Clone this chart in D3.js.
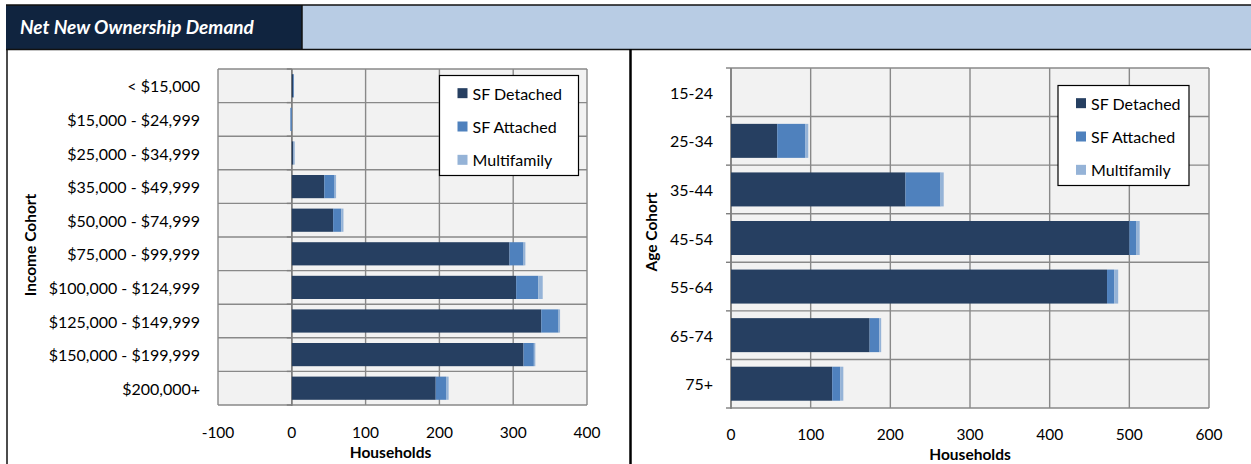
<!DOCTYPE html>
<html>
<head>
<meta charset="utf-8">
<script src="https://cdn.jsdelivr.net/npm/d3@7"></script>
<style>
  body { margin: 0; background: #fff; }
  svg { display: block; }
  text { font-family: Lato, "Open Sans", sans-serif; fill: #000; }
</style>
</head>
<body>
<svg id="chart" width="1251" height="464"></svg>
<script>
// Housing types stacked in each bar
const series = ["SF Detached", "SF Attached", "Multifamily"];
const seriesColors = ["#263f61", "#4f81bd", "#95b3d7"];

// Net new ownership demand by household income
const incomeCohorts = ["< $15,000", "$15,000 - $24,999", "$25,000 - $34,999", "$35,000 - $49,999",
  "$50,000 - $74,999", "$75,000 - $99,999", "$100,000 - $124,999", "$125,000 - $149,999",
  "$150,000 - $199,999", "$200,000+"];
const incomeDetached = [2, 0, 2, 44, 56, 295, 304, 338, 314, 195];
const incomeAttached = [1, -2, 0.5, 14, 11, 19, 30, 23.5, 14, 14];
const incomeMultifamily = [0, 0, 1.5, 2, 3, 2.5, 6, 2, 2, 3.5];
const incomeTicks = [-100, 0, 100, 200, 300, 400];

// Net new ownership demand by age of householder
const ageCohorts = ["15-24", "25-34", "35-44", "45-54", "55-64", "65-74", "75+"];
const ageDetached = [0, 58, 219, 500, 472, 174, 127];
const ageAttached = [0, 35, 44, 9, 9, 12, 10];
const ageMultifamily = [0, 4, 4, 4, 5, 2.5, 4];
const ageTicks = [0, 100, 200, 300, 400, 500, 600];

const svg = d3.select("#chart");
const gridColor = "#898989";

// ---- header band ----
svg.append("rect").attr("x", 302).attr("y", 5).attr("width", 949).attr("height", 44).attr("fill", "#b8cce4");
svg.append("rect").attr("x", 6).attr("y", 5).attr("width", 296).attr("height", 45).attr("fill", "#10243f");
svg.append("line").attr("x1", 6).attr("x2", 1251).attr("y1", 5).attr("y2", 5).attr("stroke", "#111").attr("stroke-width", 1.5);
svg.append("line").attr("x1", 6).attr("x2", 1251).attr("y1", 49.5).attr("y2", 49.5).attr("stroke", "#111").attr("stroke-width", 1.5);
svg.append("line").attr("x1", 302).attr("x2", 302).attr("y1", 5).attr("y2", 50).attr("stroke", "#111").attr("stroke-width", 1.5);
svg.append("text").attr("x", 20).attr("y", 34)
  .style("font-size", "19px").style("font-weight", "bold").style("font-style", "italic")
  .style("fill", "#fff").text("Net New Ownership Demand");

// panel frame lines
svg.append("line").attr("x1", 7).attr("x2", 7).attr("y1", 49).attr("y2", 464).attr("stroke", "#111").attr("stroke-width", 1.5);
svg.append("line").attr("x1", 630.5).attr("x2", 630.5).attr("y1", 49).attr("y2", 464).attr("stroke", "#000").attr("stroke-width", 2.5);

function drawPanel(cfg) {
  const rows = cfg.categories.map((c, i) => ({
    cat: c,
    "SF Detached": cfg.detached[i],
    "SF Attached": cfg.attached[i],
    "Multifamily": cfg.multifamily[i]
  }));
  const stacked = d3.stack().keys(series).offset(d3.stackOffsetDiverging)(rows);

  const x = d3.scaleLinear().domain(d3.extent(cfg.ticks)).range([cfg.left, cfg.right]);
  const y = d3.scaleBand().domain(cfg.categories).range([cfg.top, cfg.bottom]).paddingInner(cfg.pad).paddingOuter(cfg.pad / 2);
  const step = y.step();
  const g = svg.append("g");

  // plot background
  g.append("rect").attr("x", cfg.left).attr("y", cfg.top)
    .attr("width", cfg.right - cfg.left).attr("height", cfg.bottom - cfg.top).attr("fill", "#f2f2f2");

  // vertical value gridlines
  g.selectAll(".vg").data(cfg.ticks).join("line")
    .attr("x1", d => x(d)).attr("x2", d => x(d)).attr("y1", cfg.top).attr("y2", cfg.bottom)
    .attr("stroke", gridColor).attr("stroke-width", 1.4);

  // horizontal category gridlines at band boundaries
  const bounds = d3.range(cfg.categories.length + 1).map(i => cfg.top + i * step);
  g.selectAll(".hg").data(bounds).join("line")
    .attr("x1", cfg.left).attr("x2", cfg.right).attr("y1", d => d).attr("y2", d => d)
    .attr("stroke", gridColor).attr("stroke-width", 1.4);

  // category axis at zero with tick marks
  g.append("line").attr("x1", x(0)).attr("x2", x(0)).attr("y1", cfg.top).attr("y2", cfg.bottom + 1)
    .attr("stroke", "#7f7f7f").attr("stroke-width", 1.6);
  g.selectAll(".ct").data(bounds).join("line")
    .attr("x1", x(0) - 5).attr("x2", x(0)).attr("y1", d => d).attr("y2", d => d)
    .attr("stroke", "#7f7f7f").attr("stroke-width", 1.4);

  // stacked bars
  g.selectAll(".layer").data(stacked).join("g")
    .attr("fill", (d, i) => seriesColors[i])
    .selectAll("rect").data(d => d).join("rect")
    .attr("x", d => x(Math.min(d[0], d[1])))
    .attr("width", d => Math.abs(x(d[1]) - x(d[0])))
    .attr("y", d => y(d.data.cat))
    .attr("height", y.bandwidth());

  // category labels
  g.selectAll(".cl").data(cfg.categories).join("text")
    .attr("x", cfg.labelX).attr("y", d => y(d) + y.bandwidth() / 2)
    .attr("text-anchor", "end").attr("dominant-baseline", "central")
    .style("font-size", "16px").text(d => d);

  // value tick labels (plain hyphen for negatives)
  g.selectAll(".tl").data(cfg.ticks).join("text")
    .attr("x", d => x(d)).attr("y", cfg.tickY)
    .attr("text-anchor", "middle").attr("dominant-baseline", "central")
    .style("font-size", "15.5px").text(d => String(d));

  // axis titles
  g.append("text").attr("x", (cfg.left + cfg.right) / 2 + cfg.xTitleShift).attr("y", cfg.tickY + 20)
    .attr("text-anchor", "middle").attr("dominant-baseline", "central")
    .style("font-size", "15.5px").style("font-weight", "bold").text("Households");
  g.append("text")
    .attr("transform", `translate(${cfg.yTitleX},${cfg.yTitleY}) rotate(-90)`)
    .attr("text-anchor", "middle").attr("dominant-baseline", "central")
    .style("font-size", "15.5px").style("font-weight", "bold").text(cfg.yTitle);

  // legend
  const L = cfg.legend;
  const lg = g.append("g");
  lg.append("rect").attr("x", L.x).attr("y", L.y).attr("width", L.w).attr("height", L.h)
    .attr("fill", "#fff").attr("stroke", "#000").attr("stroke-width", 1.2);
  const items = lg.selectAll(".li").data(series).join("g")
    .attr("transform", (d, i) => `translate(${L.x + 18},${L.y + L.h / 6 + i * L.h / 3 + 1})`);
  items.append("rect").attr("x", 0).attr("y", -5).attr("width", 10).attr("height", 10)
    .attr("fill", (d, i) => seriesColors[i]);
  items.append("text").attr("x", 15).attr("y", 0).attr("dominant-baseline", "central")
    .style("font-size", "16px").text(d => d);
}

drawPanel({
  categories: incomeCohorts, detached: incomeDetached, attached: incomeAttached, multifamily: incomeMultifamily,
  ticks: incomeTicks, left: 218, right: 587, top: 69, bottom: 405, pad: 0.31,
  labelX: 200, tickY: 432, xTitleShift: -12, yTitle: "Income Cohort", yTitleX: 30, yTitleY: 245,
  legend: { x: 439.5, y: 75.5, w: 139, h: 100 }
});

drawPanel({
  categories: ageCohorts, detached: ageDetached, attached: ageAttached, multifamily: ageMultifamily,
  ticks: ageTicks, left: 731, right: 1209, top: 68, bottom: 408, pad: 0.3,
  labelX: 713, tickY: 434, xTitleShift: 0, yTitle: "Age Cohort", yTitleX: 651, yTitleY: 232,
  legend: { x: 1058, y: 85.5, w: 131, h: 100 }
});
</script>
</body>
</html>
